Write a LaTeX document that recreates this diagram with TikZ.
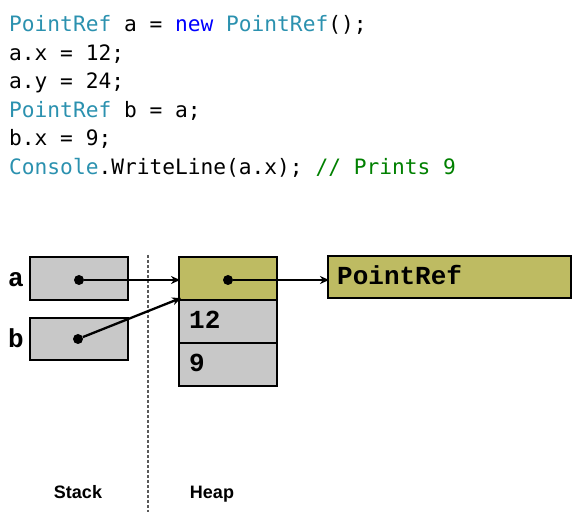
\documentclass[tikz,border=0pt]{standalone}
\usepackage{fontspec}
\setmainfont{Liberation Sans}
\newfontfamily\codefont{DejaVu Sans Mono}
\newfontfamily\courfont{Liberation Mono}
\usetikzlibrary{arrows.meta}
\definecolor{heapolive}{RGB}{190,187,98}
\definecolor{cellgray}{RGB}{200,200,200}
\definecolor{typeteal}{RGB}{43,145,175}
\definecolor{kwblue}{RGB}{0,0,255}
\definecolor{cmtgreen}{RGB}{0,128,0}
\tikzset{
  codeline/.style={anchor=base west, inner sep=0pt, font=\codefont\fontsize{21.2}{24}\selectfont},
  cell/.style={draw=black, line width=1.3pt, inner sep=0pt, minimum width=98pt, minimum height=43pt},
  graycell/.style={cell, fill=cellgray},
  olivecell/.style={cell, fill=heapolive},
  celltext/.style={anchor=base west, inner sep=0pt, font=\courfont\bfseries\fontsize{26}{28}\selectfont},
  caption/.style={anchor=base, inner sep=0pt, font=\bfseries\fontsize{18}{20}\selectfont},
  dot/.style={circle, fill=black, inner sep=0pt, minimum size=10pt},
  ptr/.style={line width=2.3pt, -{Stealth[length=9pt,width=8pt]}},
  divider/.style={gray!70!black, line width=1.2pt, dash pattern=on 3pt off 2pt}
}
\begin{document}
\begin{tikzpicture}[x=1pt,y=-1pt]
\useasboundingbox (0,0) rectangle (582,518);
% code
\node[codeline] (l1) at (9,32) {\textcolor{typeteal}{PointRef} a = \textcolor{kwblue}{new} \textcolor{typeteal}{PointRef}();};
\node[codeline] (l2) at (9,60.5) {a.x = 12;};
\node[codeline] (l3) at (9,89) {a.y = 24;};
\node[codeline] (l4) at (9,117.5) {\textcolor{typeteal}{PointRef} b = a;};
\node[codeline] (l5) at (9,146) {b.x = 9;};
\node[codeline] (l6) at (9,174.5) {\textcolor{typeteal}{Console}.WriteLine(a.x); \textcolor{cmtgreen}{// Prints 9}};
% divider
\coordinate (dtop) at (148,255);
\coordinate (dbot) at (148,512);
\draw[divider] (dtop) -- (dbot);
% stack
\node[graycell] (sa) at (79,278.5) {};
\node[graycell, minimum height=42pt] (sb) at (79,339) {};
\node[celltext] (la) at (8,287) {a};
\node[celltext] (lb) at (8,348) {b};
% heap
\node[olivecell] (h0) at (228,278.5) {};
\node[graycell] (h1) at (228,321.5) {};
\node[graycell] (h2) at (228,364.5) {};
\node[celltext] (t12) at (189,329) {12};
\node[celltext] (t9) at (189,372) {9};
% type object
\node[olivecell, minimum width=243pt, minimum height=42pt] (pr) at (449.5,277) {};
\node[celltext] (tpr) at (337,285) {PointRef};
% dots
\node[dot] (da) at (79,280) {};
\node[dot] (db) at (78,339) {};
\node[dot] (dh) at (228,280) {};
% pointers
\coordinate (ha) at (180,280);
\coordinate (hb) at (181,298);
\coordinate (pa) at (329,280);
\draw[ptr] (da) -- (ha);
\draw[ptr] (db) -- (hb);
\draw[ptr] (dh) -- (pa);
% captions
\node[caption] (cs) at (78,499) {Stack};
\node[caption] (ch) at (212,499) {Heap};
\end{tikzpicture}
\end{document}
